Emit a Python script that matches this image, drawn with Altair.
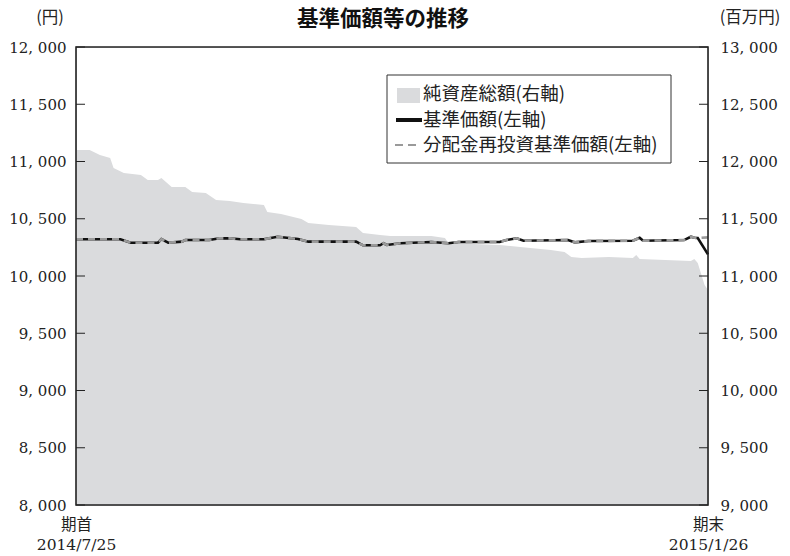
import altair as alt
import pandas as pd

FONT_NUM = "DejaVu Serif, Noto Sans CJK JP"
FONT_JP = "Noto Sans CJK JP"

# 純資産総額 (右軸, 百万円)
nav_dates = ["2014-07-25", "2014-07-29", "2014-08-01", "2014-08-04", "2014-08-05",
             "2014-08-08", "2014-08-13", "2014-08-15", "2014-08-18", "2014-08-19",
             "2014-08-22", "2014-08-26", "2014-08-28", "2014-09-01", "2014-09-04",
             "2014-09-08", "2014-09-12", "2014-09-18", "2014-09-19", "2014-09-23",
             "2014-09-29", "2014-10-01", "2014-10-07", "2014-10-15", "2014-10-17",
             "2014-10-22", "2014-10-25", "2014-11-06", "2014-11-10", "2014-11-11",
             "2014-11-26", "2014-12-02", "2014-12-11", "2014-12-15", "2014-12-17",
             "2014-12-20", "2014-12-28", "2015-01-04", "2015-01-05", "2015-01-06",
             "2015-01-21", "2015-01-22", "2015-01-23", "2015-01-25", "2015-01-26"]
net_assets = [12100, 12100, 12057, 12031, 11943,
              11900, 11882, 11838, 11838, 11856,
              11777, 11777, 11734, 11725, 11664,
              11655, 11638, 11620, 11559, 11541,
              11498, 11463, 11445, 11428, 11375,
              11358, 11349, 11349, 11332, 11288,
              11271, 11253, 11227, 11210, 11166,
              11157, 11166, 11157, 11184, 11148,
              11131, 11148, 11114, 10921, 10878]

# 基準価額 / 分配金再投資基準価額 (左軸, 円)
price_dates = ["2014-07-25", "2014-08-07", "2014-08-10", "2014-08-18", "2014-08-19",
               "2014-08-21", "2014-08-25", "2014-08-26", "2014-09-02", "2014-09-05",
               "2014-09-08", "2014-09-11", "2014-09-18", "2014-09-22", "2014-09-28",
               "2014-10-01", "2014-10-15", "2014-10-17", "2014-10-22", "2014-10-23",
               "2014-10-24", "2014-10-28", "2014-11-06", "2014-11-11", "2014-11-14",
               "2014-11-26", "2014-11-28", "2014-12-01", "2014-12-03", "2014-12-16",
               "2014-12-18", "2014-12-22", "2015-01-04", "2015-01-06", "2015-01-07",
               "2015-01-19", "2015-01-21", "2015-01-22", "2015-01-23", "2015-01-26"]
base_price = [10321, 10321, 10291, 10291, 10323,
              10291, 10300, 10314, 10314, 10329,
              10329, 10321, 10321, 10343, 10323,
              10300, 10300, 10268, 10268, 10286,
              10271, 10286, 10297, 10286, 10297,
              10297, 10314, 10329, 10308, 10314,
              10294, 10306, 10308, 10334, 10308,
              10314, 10343, 10334, 10332, 10189]
reinvest_price = [10321, 10321, 10291, 10291, 10323,
                  10291, 10300, 10314, 10314, 10329,
                  10329, 10321, 10321, 10343, 10323,
                  10300, 10300, 10268, 10268, 10286,
                  10271, 10286, 10297, 10286, 10297,
                  10297, 10314, 10329, 10308, 10314,
                  10294, 10306, 10308, 10334, 10308,
                  10314, 10343, 10334, 10332, 10337]

left_ticks = [8000, 8500, 9000, 9500, 10000, 10500, 11000, 11500, 12000]
right_ticks = [9000, 9500, 10000, 10500, 11000, 11500, 12000, 12500, 13000]

title_text = "基準価額等の推移"
left_unit = "(円)"
right_unit = "(百万円)"
legend_labels = ["純資産総額(右軸)", "基準価額(左軸)", "分配金再投資基準価額(左軸)"]
x_labels_start = ["期首", "2014/7/25"]
x_labels_end = ["期末", "2015/1/26"]

nav_df = pd.DataFrame({"date": nav_dates, "net_assets": net_assets})
price_df = pd.DataFrame({"date": price_dates, "base": base_price, "reinvest": reinvest_price})
lt_df = pd.DataFrame({"v": left_ticks})
rt_df = pd.DataFrame({"v": right_ticks})
one = pd.DataFrame({"a": [0]})

W, H = 632, 458
NUM_EXPR = "replace(format(datum.value, ','), ',', ', ')"

x_dom = [alt.DateTime(year=2014, month=7, date=25, utc=True),
         alt.DateTime(year=2015, month=1, date=26, utc=True)]
x_axis = alt.Axis(
    values=x_dom, title=None, domain=False, ticks=False, grid=False,
    labelExpr=("datum.index < 0.5 ? ['%s','%s'] : ['%s','%s']"
               % (x_labels_start[0], x_labels_start[1], x_labels_end[0], x_labels_end[1])),
    labelFont=FONT_NUM, labelFontSize=15.5, labelColor="#222", labelPadding=12,
    labelLineHeight=20, labelFlush=False, labelOverlap=False, labelBaseline="top",
)
x_enc = alt.X("date:T", scale=alt.Scale(domain=x_dom, type="utc"), axis=x_axis)

left_scale = alt.Scale(domain=[8000, 12000], zero=False, nice=False)
right_scale = alt.Scale(domain=[9000, 13000], zero=False, nice=False)

left_axis = alt.Axis(
    orient="left", values=left_ticks, labelExpr=NUM_EXPR,
    ticks=False, domain=False, grid=False, labelPadding=10, title=None,
    labelFont=FONT_NUM, labelFontSize=15, labelColor="#222",
)
right_axis = alt.Axis(
    orient="right", values=right_ticks, labelExpr=NUM_EXPR,
    ticks=False, domain=False, grid=False, labelPadding=12, title=None,
    labelFont=FONT_NUM, labelFontSize=15, labelColor="#222",
)

# ---- right-axis group: net assets area
area = alt.Chart(nav_df).mark_area(color="#dadbdd", opacity=1).encode(
    x=x_enc,
    y=alt.Y("net_assets:Q", scale=right_scale, axis=right_axis),
    y2=alt.datum(9000),
)
rticks = alt.Chart(rt_df).mark_rule(color="#222", strokeWidth=1).encode(
    y=alt.Y("v:Q", scale=right_scale, axis=right_axis),
    x=alt.value(W - 9), x2=alt.value(W),
)
right_group = alt.layer(area, rticks)

# ---- left-axis group: prices
base_line = alt.Chart(price_df).mark_line(color="#111", strokeWidth=2.6).encode(
    x=x_enc,
    y=alt.Y("base:Q", scale=left_scale, axis=left_axis),
)
reinv_line = alt.Chart(price_df).mark_line(color="#9a9a9a", strokeWidth=2.6,
                                           strokeDash=[7, 5]).encode(
    x=x_enc,
    y=alt.Y("reinvest:Q", scale=left_scale, axis=left_axis),
)
lticks = alt.Chart(lt_df).mark_rule(color="#222", strokeWidth=1).encode(
    y=alt.Y("v:Q", scale=left_scale, axis=left_axis),
    x=alt.value(0), x2=alt.value(9),
)

# ---- frame, legend box, unit labels and title (decoration)
frame = alt.Chart(one).mark_rect(fill=None, stroke="#222", strokeWidth=1.6).encode(
    x=alt.value(0), x2=alt.value(W), y=alt.value(0), y2=alt.value(H))
box = alt.Chart(one).mark_rect(fill="white", stroke="#333", strokeWidth=1).encode(
    x=alt.value(311), x2=alt.value(595), y=alt.value(28), y2=alt.value(116))
sw_area = alt.Chart(one).mark_rect(fill="#dadbdd").encode(
    x=alt.value(321), x2=alt.value(344), y=alt.value(41), y2=alt.value(56))
sw_line = alt.Chart(one).mark_rule(color="#111", strokeWidth=4).encode(
    x=alt.value(320), x2=alt.value(346), y=alt.value(73))
sw_dash = alt.Chart(one).mark_rule(color="#9a9a9a", strokeWidth=2, strokeDash=[8, 5]).encode(
    x=alt.value(319), x2=alt.value(342), y=alt.value(98))
leg_texts = [
    alt.Chart(one).mark_text(align="left", baseline="middle", font=FONT_JP, fontSize=18.5,
                             color="#222").encode(
        x=alt.value(347), y=alt.value(yy), text=alt.value(t))
    for t, yy in zip(legend_labels, [47, 73, 98])
]
unit_l = alt.Chart(one).mark_text(align="center", baseline="middle", font=FONT_JP,
                                  fontSize=16.5, color="#222").encode(
    x=alt.value(-26), y=alt.value(-29), text=alt.value(left_unit))
unit_r = alt.Chart(one).mark_text(align="center", baseline="middle", font=FONT_JP,
                                  fontSize=16.5, color="#222").encode(
    x=alt.value(674), y=alt.value(-29), text=alt.value(right_unit))
title = alt.Chart(one).mark_text(align="center", baseline="middle", font=FONT_JP,
                                 fontSize=21.5, fontWeight="bold", color="#111").encode(
    x=alt.value(307), y=alt.value(-27), text=alt.value(title_text))

left_group = alt.layer(base_line, reinv_line, lticks, frame, box, sw_area, sw_line, sw_dash,
                       *leg_texts, unit_l, unit_r, title)

chart = alt.layer(right_group, left_group).resolve_scale(y="independent").properties(
    width=W, height=H,
    autosize=alt.AutoSizeParams(type="none"),
    padding={"left": 76, "top": 47, "right": 82, "bottom": 51},
).configure_view(stroke=None).configure(background="white")

chart.save("out.html", embed_options={"renderer": "svg", "actions": False})
